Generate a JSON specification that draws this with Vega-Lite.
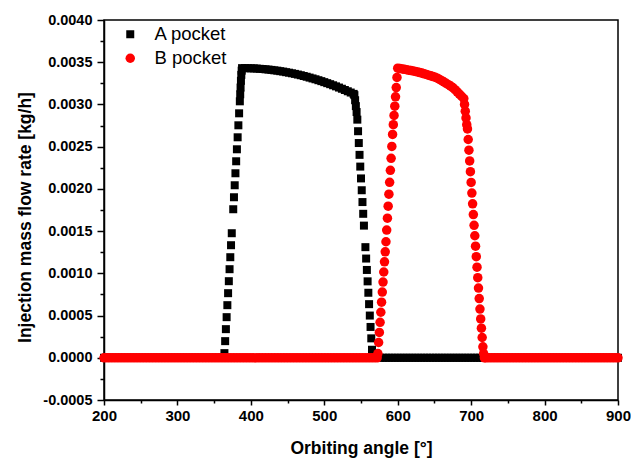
{
"$schema": "https://vega.github.io/schema/vega-lite/v6.json",
"width": 514, "height": 380,
"autosize": "none",
"padding": {"left": 104, "top": 20, "right": 13, "bottom": 63},
"background": "white",
"config": {"view": {"stroke": "black", "strokeWidth": 1.5}, "font": "Liberation Sans"},
"data": {"values": [
{"p":"A","a":200,"r":0},{"p":"A","a":204,"r":0},{"p":"A","a":208,"r":0},{"p":"A","a":212,"r":0},{"p":"A","a":216,"r":0},{"p":"A","a":220,"r":0},{"p":"A","a":224,"r":0},{"p":"A","a":228,"r":0},{"p":"A","a":232,"r":0},{"p":"A","a":236,"r":0},{"p":"A","a":240,"r":0},{"p":"A","a":244,"r":0},{"p":"A","a":248,"r":0},{"p":"A","a":252,"r":0},{"p":"A","a":256,"r":0},{"p":"A","a":260,"r":0},{"p":"A","a":264,"r":0},{"p":"A","a":268,"r":0},{"p":"A","a":272,"r":0},{"p":"A","a":276,"r":0},{"p":"A","a":280,"r":0},{"p":"A","a":284,"r":0},{"p":"A","a":288,"r":0},{"p":"A","a":292,"r":0},{"p":"A","a":296,"r":0},{"p":"A","a":300,"r":0},{"p":"A","a":304,"r":0},{"p":"A","a":308,"r":0},{"p":"A","a":312,"r":0},{"p":"A","a":316,"r":0},{"p":"A","a":320,"r":0},{"p":"A","a":324,"r":0},{"p":"A","a":328,"r":0},{"p":"A","a":332,"r":0},{"p":"A","a":336,"r":0},{"p":"A","a":340,"r":0},{"p":"A","a":344,"r":0},{"p":"A","a":348,"r":0},{"p":"A","a":352,"r":0},{"p":"A","a":356,"r":0},{"p":"A","a":360,"r":0},{"p":"A","a":362,"r":0},{"p":"A","a":363,"r":0},
{"p":"A","a":364,"r":0.000055},{"p":"A","a":365,"r":0.000197},{"p":"A","a":366,"r":0.000339},{"p":"A","a":367,"r":0.000481},{"p":"A","a":368,"r":0.000623},{"p":"A","a":369,"r":0.000765},{"p":"A","a":370,"r":0.000907},{"p":"A","a":371,"r":0.001049},{"p":"A","a":372,"r":0.001191},{"p":"A","a":373,"r":0.001333},{"p":"A","a":374,"r":0.001475},{"p":"A","a":376,"r":0.001759},{"p":"A","a":377,"r":0.001901},{"p":"A","a":378,"r":0.002043},{"p":"A","a":379,"r":0.002185},{"p":"A","a":380,"r":0.002327},{"p":"A","a":381,"r":0.002469},{"p":"A","a":382,"r":0.002611},{"p":"A","a":383,"r":0.002753},{"p":"A","a":384,"r":0.002895},{"p":"A","a":385,"r":0.003037},{"p":"A","a":385.5,"r":0.00312},{"p":"A","a":386,"r":0.0032},{"p":"A","a":386.5,"r":0.00328},{"p":"A","a":387,"r":0.00335},{"p":"A","a":387.5,"r":0.0034},{"p":"A","a":388,"r":0.00343},
{"p":"A","a":392,"r":0.00343},{"p":"A","a":396,"r":0.003429},{"p":"A","a":400,"r":0.003428},{"p":"A","a":404,"r":0.003427},{"p":"A","a":408,"r":0.003425},{"p":"A","a":412,"r":0.003422},{"p":"A","a":416,"r":0.00342},{"p":"A","a":420,"r":0.003416},{"p":"A","a":424,"r":0.003413},{"p":"A","a":428,"r":0.003409},{"p":"A","a":432,"r":0.003404},{"p":"A","a":436,"r":0.0034},{"p":"A","a":440,"r":0.003394},{"p":"A","a":444,"r":0.003389},{"p":"A","a":448,"r":0.003382},{"p":"A","a":452,"r":0.003376},{"p":"A","a":456,"r":0.003369},{"p":"A","a":460,"r":0.003362},{"p":"A","a":464,"r":0.003354},{"p":"A","a":468,"r":0.003346},{"p":"A","a":472,"r":0.003337},{"p":"A","a":476,"r":0.003328},{"p":"A","a":480,"r":0.003318},{"p":"A","a":484,"r":0.003308},{"p":"A","a":488,"r":0.003298},{"p":"A","a":492,"r":0.003287},{"p":"A","a":496,"r":0.003276},{"p":"A","a":500,"r":0.003264},{"p":"A","a":504,"r":0.003252},{"p":"A","a":508,"r":0.00324},{"p":"A","a":512,"r":0.003227},{"p":"A","a":516,"r":0.003214},{"p":"A","a":520,"r":0.0032},{"p":"A","a":524,"r":0.003186},{"p":"A","a":528,"r":0.003171},{"p":"A","a":532,"r":0.003156},{"p":"A","a":536,"r":0.003141},{"p":"A","a":540,"r":0.003125},
{"p":"A","a":541,"r":0.00311},{"p":"A","a":542,"r":0.00305},{"p":"A","a":543,"r":0.00298},{"p":"A","a":544,"r":0.00291},{"p":"A","a":545,"r":0.00282},{"p":"A","a":546,"r":0.002683},{"p":"A","a":547,"r":0.002543},{"p":"A","a":548,"r":0.002403},{"p":"A","a":549,"r":0.002264},{"p":"A","a":550,"r":0.002124},{"p":"A","a":551,"r":0.001984},{"p":"A","a":552,"r":0.001844},{"p":"A","a":553,"r":0.001705},{"p":"A","a":554,"r":0.001565},{"p":"A","a":556,"r":0.00131},{"p":"A","a":557,"r":0.001175},{"p":"A","a":558,"r":0.00104},{"p":"A","a":559,"r":0.000905},{"p":"A","a":560,"r":0.00077},{"p":"A","a":561,"r":0.000635},{"p":"A","a":562,"r":0.0005},{"p":"A","a":563,"r":0.000365},{"p":"A","a":564,"r":0.00023},{"p":"A","a":565,"r":0.000095},{"p":"A","a":566,"r":0.00002},{"p":"A","a":567,"r":0},
{"p":"A","a":568,"r":0},{"p":"A","a":572,"r":0},{"p":"A","a":576,"r":0},{"p":"A","a":580,"r":0},{"p":"A","a":584,"r":0},{"p":"A","a":588,"r":0},{"p":"A","a":592,"r":0},{"p":"A","a":596,"r":0},{"p":"A","a":600,"r":0},{"p":"A","a":604,"r":0},{"p":"A","a":608,"r":0},{"p":"A","a":612,"r":0},{"p":"A","a":616,"r":0},{"p":"A","a":620,"r":0},{"p":"A","a":624,"r":0},{"p":"A","a":628,"r":0},{"p":"A","a":632,"r":0},{"p":"A","a":636,"r":0},{"p":"A","a":640,"r":0},{"p":"A","a":644,"r":0},{"p":"A","a":648,"r":0},{"p":"A","a":652,"r":0},{"p":"A","a":656,"r":0},{"p":"A","a":660,"r":0},{"p":"A","a":664,"r":0},{"p":"A","a":668,"r":0},{"p":"A","a":672,"r":0},{"p":"A","a":676,"r":0},{"p":"A","a":680,"r":0},{"p":"A","a":684,"r":0},{"p":"A","a":688,"r":0},{"p":"A","a":692,"r":0},{"p":"A","a":696,"r":0},{"p":"A","a":700,"r":0},{"p":"A","a":704,"r":0},{"p":"A","a":708,"r":0},{"p":"A","a":712,"r":0},{"p":"A","a":716,"r":0},{"p":"A","a":720,"r":0},{"p":"A","a":724,"r":0},{"p":"A","a":728,"r":0},{"p":"A","a":732,"r":0},{"p":"A","a":736,"r":0},{"p":"A","a":740,"r":0},{"p":"A","a":744,"r":0},{"p":"A","a":748,"r":0},{"p":"A","a":752,"r":0},{"p":"A","a":756,"r":0},{"p":"A","a":760,"r":0},{"p":"A","a":764,"r":0},{"p":"A","a":768,"r":0},{"p":"A","a":772,"r":0},{"p":"A","a":776,"r":0},{"p":"A","a":780,"r":0},{"p":"A","a":784,"r":0},{"p":"A","a":788,"r":0},{"p":"A","a":792,"r":0},{"p":"A","a":796,"r":0},{"p":"A","a":800,"r":0},{"p":"A","a":804,"r":0},{"p":"A","a":808,"r":0},{"p":"A","a":812,"r":0},{"p":"A","a":816,"r":0},{"p":"A","a":820,"r":0},{"p":"A","a":824,"r":0},{"p":"A","a":828,"r":0},{"p":"A","a":832,"r":0},{"p":"A","a":836,"r":0},{"p":"A","a":840,"r":0},{"p":"A","a":844,"r":0},{"p":"A","a":848,"r":0},{"p":"A","a":852,"r":0},{"p":"A","a":856,"r":0},{"p":"A","a":860,"r":0},{"p":"A","a":864,"r":0},{"p":"A","a":868,"r":0},{"p":"A","a":872,"r":0},{"p":"A","a":876,"r":0},{"p":"A","a":880,"r":0},{"p":"A","a":884,"r":0},{"p":"A","a":888,"r":0},{"p":"A","a":892,"r":0},{"p":"A","a":896,"r":0},{"p":"A","a":900,"r":0},
{"p":"B","a":200,"r":0},{"p":"B","a":204,"r":0},{"p":"B","a":208,"r":0},{"p":"B","a":212,"r":0},{"p":"B","a":216,"r":0},{"p":"B","a":220,"r":0},{"p":"B","a":224,"r":0},{"p":"B","a":228,"r":0},{"p":"B","a":232,"r":0},{"p":"B","a":236,"r":0},{"p":"B","a":240,"r":0},{"p":"B","a":244,"r":0},{"p":"B","a":248,"r":0},{"p":"B","a":252,"r":0},{"p":"B","a":256,"r":0},{"p":"B","a":260,"r":0},{"p":"B","a":264,"r":0},{"p":"B","a":268,"r":0},{"p":"B","a":272,"r":0},{"p":"B","a":276,"r":0},{"p":"B","a":280,"r":0},{"p":"B","a":284,"r":0},{"p":"B","a":288,"r":0},{"p":"B","a":292,"r":0},{"p":"B","a":296,"r":0},{"p":"B","a":300,"r":0},{"p":"B","a":304,"r":0},{"p":"B","a":308,"r":0},{"p":"B","a":312,"r":0},{"p":"B","a":316,"r":0},{"p":"B","a":320,"r":0},{"p":"B","a":324,"r":0},{"p":"B","a":328,"r":0},{"p":"B","a":332,"r":0},{"p":"B","a":336,"r":0},{"p":"B","a":340,"r":0},{"p":"B","a":344,"r":0},{"p":"B","a":348,"r":0},{"p":"B","a":352,"r":0},{"p":"B","a":356,"r":0},{"p":"B","a":360,"r":0},{"p":"B","a":364,"r":0},{"p":"B","a":368,"r":0},{"p":"B","a":372,"r":0},{"p":"B","a":376,"r":0},{"p":"B","a":380,"r":0},{"p":"B","a":384,"r":0},{"p":"B","a":388,"r":0},{"p":"B","a":392,"r":0},{"p":"B","a":396,"r":0},{"p":"B","a":400,"r":0},{"p":"B","a":404,"r":0},{"p":"B","a":408,"r":0},{"p":"B","a":412,"r":0},{"p":"B","a":416,"r":0},{"p":"B","a":420,"r":0},{"p":"B","a":424,"r":0},{"p":"B","a":428,"r":0},{"p":"B","a":432,"r":0},{"p":"B","a":436,"r":0},{"p":"B","a":440,"r":0},{"p":"B","a":444,"r":0},{"p":"B","a":448,"r":0},{"p":"B","a":452,"r":0},{"p":"B","a":456,"r":0},{"p":"B","a":460,"r":0},{"p":"B","a":464,"r":0},{"p":"B","a":468,"r":0},{"p":"B","a":472,"r":0},{"p":"B","a":476,"r":0},{"p":"B","a":480,"r":0},{"p":"B","a":484,"r":0},{"p":"B","a":488,"r":0},{"p":"B","a":492,"r":0},{"p":"B","a":496,"r":0},{"p":"B","a":500,"r":0},{"p":"B","a":504,"r":0},{"p":"B","a":508,"r":0},{"p":"B","a":512,"r":0},{"p":"B","a":516,"r":0},{"p":"B","a":520,"r":0},{"p":"B","a":524,"r":0},{"p":"B","a":528,"r":0},{"p":"B","a":532,"r":0},{"p":"B","a":536,"r":0},{"p":"B","a":540,"r":0},{"p":"B","a":544,"r":0},{"p":"B","a":548,"r":0},{"p":"B","a":552,"r":0},{"p":"B","a":556,"r":0},{"p":"B","a":560,"r":0},{"p":"B","a":564,"r":0},{"p":"B","a":568,"r":0},{"p":"B","a":572,"r":0},{"p":"B","a":573,"r":0.00005},
{"p":"B","a":574,"r":0.000181},{"p":"B","a":575,"r":0.0003},{"p":"B","a":576,"r":0.00042},{"p":"B","a":577,"r":0.000539},{"p":"B","a":578,"r":0.000658},{"p":"B","a":579,"r":0.000778},{"p":"B","a":580,"r":0.000897},{"p":"B","a":581,"r":0.001016},{"p":"B","a":582,"r":0.001136},{"p":"B","a":583,"r":0.001255},{"p":"B","a":584,"r":0.001374},{"p":"B","a":585,"r":0.001512},{"p":"B","a":586,"r":0.001653},{"p":"B","a":587,"r":0.001795},{"p":"B","a":588,"r":0.001937},{"p":"B","a":589,"r":0.002078},{"p":"B","a":590,"r":0.00222},{"p":"B","a":591,"r":0.002362},{"p":"B","a":592,"r":0.002503},{"p":"B","a":593,"r":0.002645},{"p":"B","a":594,"r":0.00276},{"p":"B","a":595,"r":0.00287},{"p":"B","a":596,"r":0.00298},{"p":"B","a":597,"r":0.00309},{"p":"B","a":598,"r":0.0032},{"p":"B","a":599,"r":0.00332},
{"p":"B","a":600,"r":0.00343},{"p":"B","a":603,"r":0.003426},{"p":"B","a":606,"r":0.003421},{"p":"B","a":609,"r":0.003416},{"p":"B","a":612,"r":0.003411},{"p":"B","a":615,"r":0.003406},{"p":"B","a":618,"r":0.003401},{"p":"B","a":621,"r":0.003396},{"p":"B","a":624,"r":0.003391},{"p":"B","a":627,"r":0.003385},{"p":"B","a":630,"r":0.003378},{"p":"B","a":633,"r":0.003371},{"p":"B","a":636,"r":0.003363},{"p":"B","a":639,"r":0.003355},{"p":"B","a":642,"r":0.003347},{"p":"B","a":645,"r":0.003339},{"p":"B","a":648,"r":0.00333},{"p":"B","a":651,"r":0.003322},{"p":"B","a":654,"r":0.003311},{"p":"B","a":657,"r":0.003296},{"p":"B","a":660,"r":0.003281},{"p":"B","a":663,"r":0.003266},{"p":"B","a":666,"r":0.00325},{"p":"B","a":669,"r":0.003234},{"p":"B","a":672,"r":0.003218},{"p":"B","a":675,"r":0.0032},{"p":"B","a":678,"r":0.003175},{"p":"B","a":681,"r":0.003149},{"p":"B","a":684,"r":0.003123},{"p":"B","a":687,"r":0.003097},{"p":"B","a":690,"r":0.00307},
{"p":"B","a":691,"r":0.003},{"p":"B","a":692,"r":0.00292},{"p":"B","a":693,"r":0.00284},{"p":"B","a":694,"r":0.00276},{"p":"B","a":695,"r":0.00271},{"p":"B","a":696,"r":0.002585},{"p":"B","a":697,"r":0.002458},{"p":"B","a":698,"r":0.002331},{"p":"B","a":699,"r":0.002204},{"p":"B","a":700,"r":0.002077},{"p":"B","a":701,"r":0.00195},{"p":"B","a":702,"r":0.001823},{"p":"B","a":703,"r":0.001696},{"p":"B","a":704,"r":0.001569},{"p":"B","a":705,"r":0.001445},{"p":"B","a":706,"r":0.001321},{"p":"B","a":707,"r":0.001197},{"p":"B","a":708,"r":0.001073},{"p":"B","a":709,"r":0.000949},{"p":"B","a":710,"r":0.000825},{"p":"B","a":711,"r":0.000701},{"p":"B","a":712,"r":0.000577},{"p":"B","a":713,"r":0.00046},{"p":"B","a":714,"r":0.00035},{"p":"B","a":715,"r":0.00024},{"p":"B","a":716,"r":0.00013},{"p":"B","a":717,"r":0.00005},{"p":"B","a":718,"r":0},
{"p":"B","a":720,"r":0},{"p":"B","a":724,"r":0},{"p":"B","a":728,"r":0},{"p":"B","a":732,"r":0},{"p":"B","a":736,"r":0},{"p":"B","a":740,"r":0},{"p":"B","a":744,"r":0},{"p":"B","a":748,"r":0},{"p":"B","a":752,"r":0},{"p":"B","a":756,"r":0},{"p":"B","a":760,"r":0},{"p":"B","a":764,"r":0},{"p":"B","a":768,"r":0},{"p":"B","a":772,"r":0},{"p":"B","a":776,"r":0},{"p":"B","a":780,"r":0},{"p":"B","a":784,"r":0},{"p":"B","a":788,"r":0},{"p":"B","a":792,"r":0},{"p":"B","a":796,"r":0},{"p":"B","a":800,"r":0},{"p":"B","a":804,"r":0},{"p":"B","a":808,"r":0},{"p":"B","a":812,"r":0},{"p":"B","a":816,"r":0},{"p":"B","a":820,"r":0},{"p":"B","a":824,"r":0},{"p":"B","a":828,"r":0},{"p":"B","a":832,"r":0},{"p":"B","a":836,"r":0},{"p":"B","a":840,"r":0},{"p":"B","a":844,"r":0},{"p":"B","a":848,"r":0},{"p":"B","a":852,"r":0},{"p":"B","a":856,"r":0},{"p":"B","a":860,"r":0},{"p":"B","a":864,"r":0},{"p":"B","a":868,"r":0},{"p":"B","a":872,"r":0},{"p":"B","a":876,"r":0},{"p":"B","a":880,"r":0},{"p":"B","a":884,"r":0},{"p":"B","a":888,"r":0},{"p":"B","a":892,"r":0},{"p":"B","a":896,"r":0},{"p":"B","a":900,"r":0}
]},
"mark": {"type": "point", "filled": true, "opacity": 1, "strokeWidth": 0},
"encoding": {
 "x": {"field": "a", "type": "quantitative",
  "scale": {"domain": [200, 900], "nice": false, "zero": false},
  "axis": {"title": "Orbiting angle [°]",
   "values": [200,250,300,350,400,450,500,550,600,650,700,750,800,850,900],
   "format": "d",
   "labelExpr": "datum.value % 100 === 0 ? datum.label : ''",
   "tickSize": {"condition": {"test": "datum.value % 100 === 0", "value": 5}, "value": 3},
   "labelFont": "Liberation Sans", "labelFontWeight": "bold", "labelFontSize": 15, "labelColor": "black", "labelPadding": 3,
   "labelFlush": false, "labelOverlap": false,
   "domainColor": "black", "domainWidth": 1.5, "tickColor": "black", "tickWidth": 1.5, "grid": false,
   "titleFont": "Liberation Sans", "titleFontSize": 17.5, "titleFontWeight": "bold", "titleColor": "black",
   "titleY": 53, "titleBaseline": "alphabetic"}},
 "y": {"field": "r", "type": "quantitative",
  "scale": {"domain": [-0.0005, 0.004], "nice": false, "zero": false},
  "axis": {"title": "Injection mass flow rate [kg/h]",
   "values": [-0.0005,-0.00025,0,0.00025,0.0005,0.00075,0.001,0.00125,0.0015,0.00175,0.002,0.00225,0.0025,0.00275,0.003,0.00325,0.0035,0.00375,0.004],
   "labelExpr": "abs(datum.value*2000 - round(datum.value*2000)) < 0.01 ? (datum.value < 0 ? '-' + format(-datum.value, '.4f') : format(datum.value, '.4f')) : ''",
   "tickSize": {"condition": {"test": "abs(datum.value*2000 - round(datum.value*2000)) < 0.01", "value": 7}, "value": 4},
   "labelFont": "Liberation Sans", "labelFontWeight": "bold", "labelFontSize": 14.5, "labelColor": "black", "labelPadding": 5,
   "labelFlush": false, "labelOverlap": false,
   "domainColor": "black", "domainWidth": 1.5, "tickColor": "black", "tickWidth": 1.5, "grid": false,
   "titleFont": "Liberation Sans", "titleFontSize": 17.5, "titleFontWeight": "bold", "titleColor": "black",
   "titleX": -74, "titleY": 197, "titleBaseline": "alphabetic", "titleAlign": "center", "titleAngle": -90}},
 "color": {"field": "p", "type": "nominal",
  "scale": {"domain": ["A", "B"], "range": ["#000000", "#ff0000"]},
  "legend": {"title": null, "orient": "none", "legendX": 17, "legendY": 5, "padding": 0,
   "labelExpr": "datum.label + ' pocket'", "labelFont": "Liberation Sans", "labelFontSize": 18.5, "labelColor": "black",
   "symbolSize": 55, "symbolStrokeWidth": 0, "labelOffset": 15, "rowPadding": 5}},
 "shape": {"field": "p", "type": "nominal",
  "scale": {"domain": ["A", "B"], "range": ["square", "circle"]},
  "legend": {"title": null, "orient": "none", "legendX": 17, "legendY": 5, "padding": 0,
   "labelExpr": "datum.label + ' pocket'", "labelFont": "Liberation Sans", "labelFontSize": 18.5, "labelColor": "black",
   "symbolSize": 55, "symbolStrokeWidth": 0, "labelOffset": 15, "rowPadding": 5}},
 "size": {"field": "p", "type": "ordinal",
  "scale": {"domain": ["A", "B"], "range": [64, 90]}, "legend": null}
}
}
